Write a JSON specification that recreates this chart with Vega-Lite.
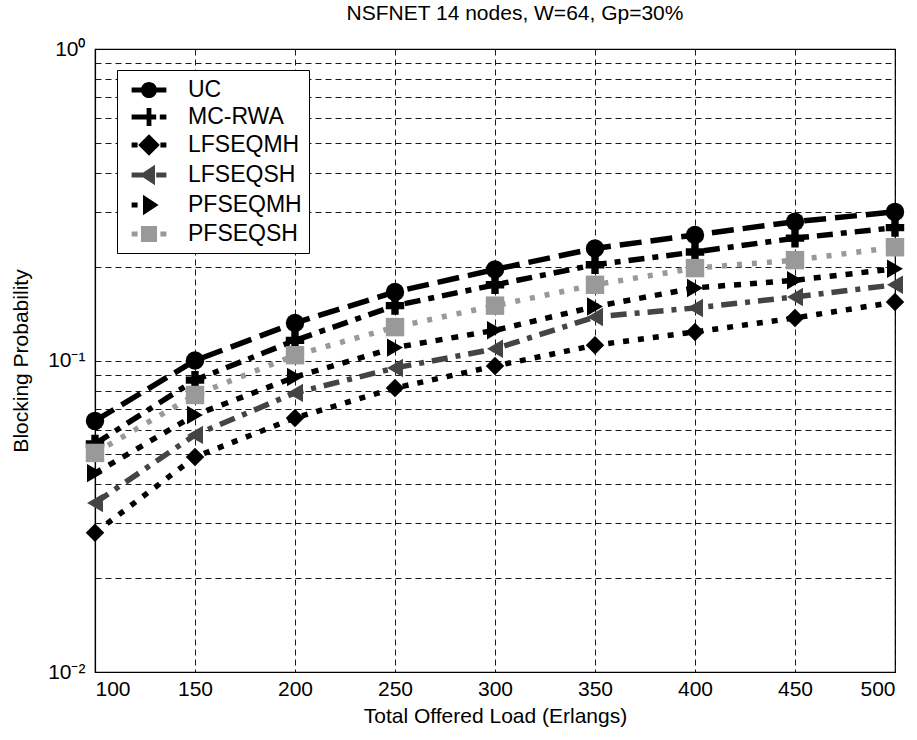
{
  "$schema": "https://vega.github.io/schema/vega-lite/v6.json",
  "width": 800,
  "height": 623,
  "autosize": "none",
  "padding": {"left": 95, "top": 49, "right": 22, "bottom": 68},
  "background": "white",
  "title": {"text": "NSFNET 14 nodes, W=64, Gp=30%", "fontSize": 21, "fontWeight": "normal", "color": "black", "offset": 14, "dx": 20},
  "data": {"values": [
    {"load": 100, "series": "UC", "p": 0.064},
    {"load": 150, "series": "UC", "p": 0.100},
    {"load": 200, "series": "UC", "p": 0.132},
    {"load": 250, "series": "UC", "p": 0.166},
    {"load": 300, "series": "UC", "p": 0.196},
    {"load": 350, "series": "UC", "p": 0.229},
    {"load": 400, "series": "UC", "p": 0.253},
    {"load": 450, "series": "UC", "p": 0.279},
    {"load": 500, "series": "UC", "p": 0.300},
    {"load": 100, "series": "MC-RWA", "p": 0.054},
    {"load": 150, "series": "MC-RWA", "p": 0.0865},
    {"load": 200, "series": "MC-RWA", "p": 0.116},
    {"load": 250, "series": "MC-RWA", "p": 0.150},
    {"load": 300, "series": "MC-RWA", "p": 0.175},
    {"load": 350, "series": "MC-RWA", "p": 0.203},
    {"load": 400, "series": "MC-RWA", "p": 0.223},
    {"load": 450, "series": "MC-RWA", "p": 0.247},
    {"load": 500, "series": "MC-RWA", "p": 0.267},
    {"load": 100, "series": "LFSEQMH", "p": 0.028},
    {"load": 150, "series": "LFSEQMH", "p": 0.049},
    {"load": 200, "series": "LFSEQMH", "p": 0.0654},
    {"load": 250, "series": "LFSEQMH", "p": 0.0816},
    {"load": 300, "series": "LFSEQMH", "p": 0.096},
    {"load": 350, "series": "LFSEQMH", "p": 0.112},
    {"load": 400, "series": "LFSEQMH", "p": 0.1235},
    {"load": 450, "series": "LFSEQMH", "p": 0.137},
    {"load": 500, "series": "LFSEQMH", "p": 0.154},
    {"load": 100, "series": "LFSEQSH", "p": 0.0349},
    {"load": 150, "series": "LFSEQSH", "p": 0.0577},
    {"load": 200, "series": "LFSEQSH", "p": 0.0787},
    {"load": 250, "series": "LFSEQSH", "p": 0.0946},
    {"load": 300, "series": "LFSEQSH", "p": 0.109},
    {"load": 350, "series": "LFSEQSH", "p": 0.138},
    {"load": 400, "series": "LFSEQSH", "p": 0.1475},
    {"load": 450, "series": "LFSEQSH", "p": 0.160},
    {"load": 500, "series": "LFSEQSH", "p": 0.175},
    {"load": 100, "series": "PFSEQMH", "p": 0.0435},
    {"load": 150, "series": "PFSEQMH", "p": 0.0668},
    {"load": 200, "series": "PFSEQMH", "p": 0.0885},
    {"load": 250, "series": "PFSEQMH", "p": 0.110},
    {"load": 300, "series": "PFSEQMH", "p": 0.125},
    {"load": 350, "series": "PFSEQMH", "p": 0.149},
    {"load": 400, "series": "PFSEQMH", "p": 0.171},
    {"load": 450, "series": "PFSEQMH", "p": 0.181},
    {"load": 500, "series": "PFSEQMH", "p": 0.197},
    {"load": 100, "series": "PFSEQSH", "p": 0.0505},
    {"load": 150, "series": "PFSEQSH", "p": 0.0775},
    {"load": 200, "series": "PFSEQSH", "p": 0.104},
    {"load": 250, "series": "PFSEQSH", "p": 0.128},
    {"load": 300, "series": "PFSEQSH", "p": 0.150},
    {"load": 350, "series": "PFSEQSH", "p": 0.175},
    {"load": 400, "series": "PFSEQSH", "p": 0.198},
    {"load": 450, "series": "PFSEQSH", "p": 0.210},
    {"load": 500, "series": "PFSEQSH", "p": 0.231}
  ]},
  "encoding": {
    "x": {"field": "load", "type": "quantitative",
      "scale": {"domain": [100, 500], "nice": false, "zero": false},
      "axis": {"title": "Total Offered Load (Erlangs)", "values": [100,150,200,250,300,350,400,450,500], "format": "d"}},
    "y": {"field": "p", "type": "quantitative",
      "scale": {"type": "log", "domain": [0.01, 1], "nice": false},
      "axis": {"title": "Blocking Probability",
        "values": [0.01,0.02,0.03,0.04,0.05,0.06,0.07,0.08,0.09,0.1,0.2,0.3,0.4,0.5,0.6,0.7,0.8,0.9,1],
        "labelExpr": "datum.value == 1 ? '10⁰' : datum.value == 0.1 ? '10⁻¹' : datum.value == 0.01 ? '10⁻²' : ''"}}
  },
  "layer": [
    {
      "mark": {"type": "line", "strokeWidth": 5.5, "strokeCap": "butt"},
      "encoding": {
        "detail": {"field": "series"},
        "color": {"field": "series", "type": "nominal", "legend": null,
          "scale": {"domain": ["UC","MC-RWA","LFSEQMH","LFSEQSH","PFSEQMH","PFSEQSH"], "range": ["#000000","#000000","#000000","#444444","#000000","#999999"]}},
        "strokeDash": {"field": "series", "type": "nominal", "legend": null,
          "scale": {"domain": ["UC","MC-RWA","LFSEQMH","LFSEQSH","PFSEQMH","PFSEQSH"], "range": [[22,9],[16,8,6,8],[6,9],[16,8,5,8],[7,9],[5,10]]}}
      }
    },
    {
      "mark": {"type": "point", "filled": true, "size": 340, "opacity": 1},
      "encoding": {
        "color": {"field": "series", "type": "nominal", "legend": null,
          "scale": {"domain": ["UC","MC-RWA","LFSEQMH","LFSEQSH","PFSEQMH","PFSEQSH"], "range": ["#000000","#000000","#000000","#444444","#000000","#999999"]}},
        "shape": {"field": "series", "type": "nominal", "legend": null,
          "scale": {"domain": ["UC","MC-RWA","LFSEQMH","LFSEQSH","PFSEQMH","PFSEQSH"], "range": ["circle","cross","diamond","triangle-left","triangle-right","square"]}}
      }
    },
    {
      "mark": {"type": "point", "filled": true, "size": 10, "opacity": 0},
      "encoding": {
        "color": {"field": "series", "type": "nominal",
          "scale": {"domain": ["UC","MC-RWA","LFSEQMH","LFSEQSH","PFSEQMH","PFSEQSH"], "range": ["#000000","#000000","#000000","#444444","#000000","#999999"]},
          "legend": {"title": null, "orient": "none", "legendX": 22, "legendY": 21, "symbolSize": 576, "symbolOpacity": 1, "labelFontSize": 23, "labelOffset": 26, "rowPadding": 2, "padding": 7, "strokeColor": "black", "fillColor": "white", "cornerRadius": 0, "labelColor": "black", "symbolOffset": 12, "offset": 0}},
        "shape": {"field": "series", "type": "nominal",
          "scale": {"domain": ["UC","MC-RWA","LFSEQMH","LFSEQSH","PFSEQMH","PFSEQSH"], "range": [
            "M-1.45,-0.2H1.45V0.2H-1.45Z M0.67,0A0.67,0.67 0 1,1 -0.67,0A0.67,0.67 0 1,1 0.67,0Z",
            "M-1.45,-0.2H0.6V0.2H-1.45Z M-0.2,-0.75H0.2V-0.2H0.6V0.2H0.2V0.75H-0.2V0.2H-0.6V-0.2H-0.2Z M0.9,-0.2H1.45V0.2H0.9Z",
            "M-1.45,-0.2H-0.95V0.2H-1.45Z M0,-0.9L0.9,0L0,0.9L-0.9,0Z M0.95,-0.2H1.45V0.2H0.95Z",
            "M-1.45,-0.2H-0.3V0.2H-1.45Z M0.5,-0.85L0.5,0.85L-0.8,0Z M0.6,-0.2H1.45V0.2H0.6Z",
            "M-1.45,-0.2H-0.95V0.2H-1.45Z M-0.5,-0.85L0.8,0L-0.5,0.85Z",
            "M-1.45,-0.2H-0.95V0.2H-1.45Z M-0.67,-0.67H0.67V0.67H-0.67Z M0.95,-0.2H1.45V0.2H0.95Z"
          ]},
          "legend": {"title": null, "orient": "none", "legendX": 22, "legendY": 21, "symbolSize": 576, "symbolOpacity": 1, "labelFontSize": 23, "labelOffset": 26, "rowPadding": 2, "padding": 7, "strokeColor": "black", "fillColor": "white", "cornerRadius": 0, "labelColor": "black", "symbolOffset": 12, "offset": 0}}
      }
    }
  ],
  "resolve": {"scale": {"shape": "independent", "color": "independent"}},
  "config": {
    "font": "Liberation Sans",
    "view": {"stroke": "black", "strokeWidth": 1.2},
    "axis": {
      "domainColor": "black", "domainWidth": 1.2,
      "ticks": false,
      "grid": true, "gridColor": "black", "gridDash": [6, 4], "gridWidth": 1, "gridOpacity": 0.9,
      "labelFontSize": 21, "labelColor": "black", "labelFont": "Liberation Sans",
      "titleFontSize": 21, "titleFontWeight": "normal", "titleColor": "black", "titleFont": "Liberation Sans"
    },
    "axisX": {"labelPadding": 6, "titlePadding": 6},
    "axisY": {"labelPadding": 10, "titlePadding": 16}
  }
}
